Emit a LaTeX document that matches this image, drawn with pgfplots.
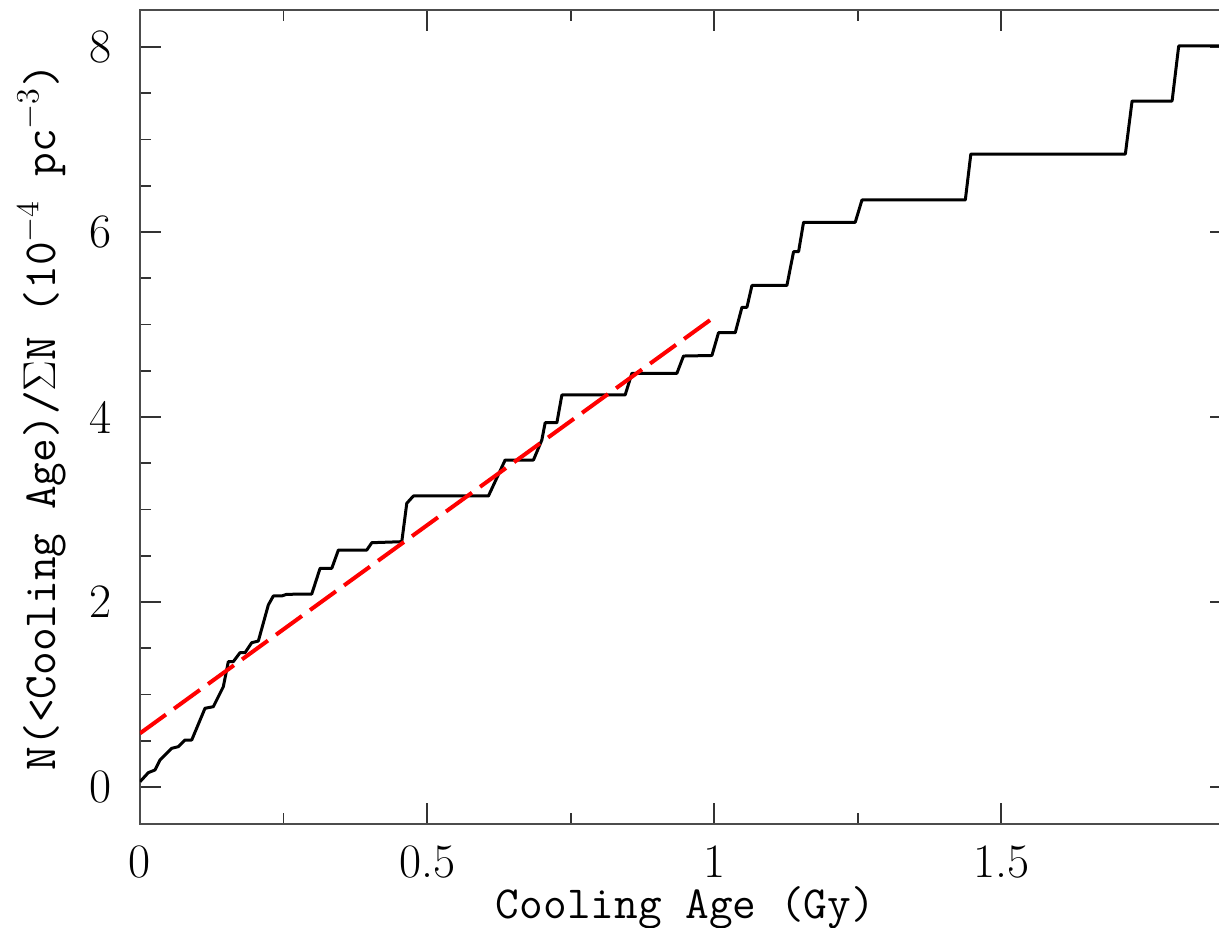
\RequirePackage{fix-cm}
\documentclass[border=0pt]{standalone}
\usepackage{pgfplots}
\pgfplotsset{compat=1.18}

\begin{document}
\begin{tikzpicture}
\begin{axis}[
    scale only axis,
    width=545.5pt, height=407pt,
    xmin=0, xmax=1.9,
    ymin=-0.4, ymax=8.4,
    xtick={0,0.5,1,1.5},
    ytick={0,2,4,6,8},
    minor x tick num=1,
    minor y tick num=3,
    tick align=inside,
    xtick pos=both, ytick pos=both,
    major tick length=10.5pt,
    minor tick length=5.5pt,
    axis line style={black!70, line width=1.2pt},
    every tick/.style={black!80, line width=0.9pt},
    /pgf/number format/assume math mode=true,
    tick label style={font=\fontsize{24}{28}\selectfont, inner sep=0pt},
    xticklabel style={yshift=-10.5pt},
    yticklabel style={xshift=-14pt},
    label style={font=\fontsize{23}{27}\selectfont\ttfamily},
    xlabel={Cooling Age (Gy)},
    xlabel style={at={(axis description cs:0.5,-0.1155)}, anchor=base},
    ylabel={N(<Cooling Age)/$\Sigma$N (10$^{-4}$ pc$^{-3}$)},
    ylabel style={at={(axis description cs:-0.0779,0.5)}, anchor=base, rotate=0},
]
% cumulative number (step curve)
\addplot[black, line width=1.5pt, line join=round] coordinates {
    (0,0.057) (0.0145,0.155) (0.0261,0.184) (0.0348,0.292)
    (0.0552,0.418) (0.0667,0.436) (0.0784,0.508) (0.0901,0.508)
    (0.1132,0.851) (0.1277,0.868) (0.1451,1.084) (0.1538,1.355)
    (0.1625,1.355) (0.1742,1.452) (0.1829,1.452) (0.1946,1.560)
    (0.2061,1.578) (0.2235,1.968) (0.2322,2.065) (0.2469,2.065)
    (0.2556,2.083) (0.2991,2.086) (0.3136,2.364) (0.3340,2.364)
    (0.3455,2.562) (0.3950,2.562) (0.4037,2.641) (0.4559,2.652)
    (0.4646,3.067) (0.4761,3.146) (0.6068,3.146) (0.6359,3.535)
    (0.6852,3.535) (0.6998,3.751) (0.7056,3.938) (0.7260,3.938)
    (0.7347,4.238) (0.8449,4.238) (0.8566,4.472) (0.9350,4.472)
    (0.9465,4.659) (0.9960,4.665) (1.0075,4.911) (1.0366,4.911)
    (1.0483,5.186) (1.0570,5.186) (1.0657,5.422) (1.1266,5.422)
    (1.1382,5.787) (1.1469,5.787) (1.1556,6.105) (1.2456,6.105)
    (1.2573,6.346) (1.4373,6.346) (1.4469,6.843) (1.7160,6.843)
    (1.7277,7.416) (1.7974,7.416) (1.8089,8.011) (1.9,8.011)
};
% linear fit
\addplot[red, line width=2pt, dash pattern=on 16pt off 5pt] coordinates {
    (0,0.58) (1,5.08)
};
\end{axis}
\pgfresetboundingbox
\path ([xshift=-70pt,yshift=-52pt]current axis.south west) rectangle ([xshift=-6pt,yshift=5pt]current axis.north east);
\end{tikzpicture}
\end{document}
